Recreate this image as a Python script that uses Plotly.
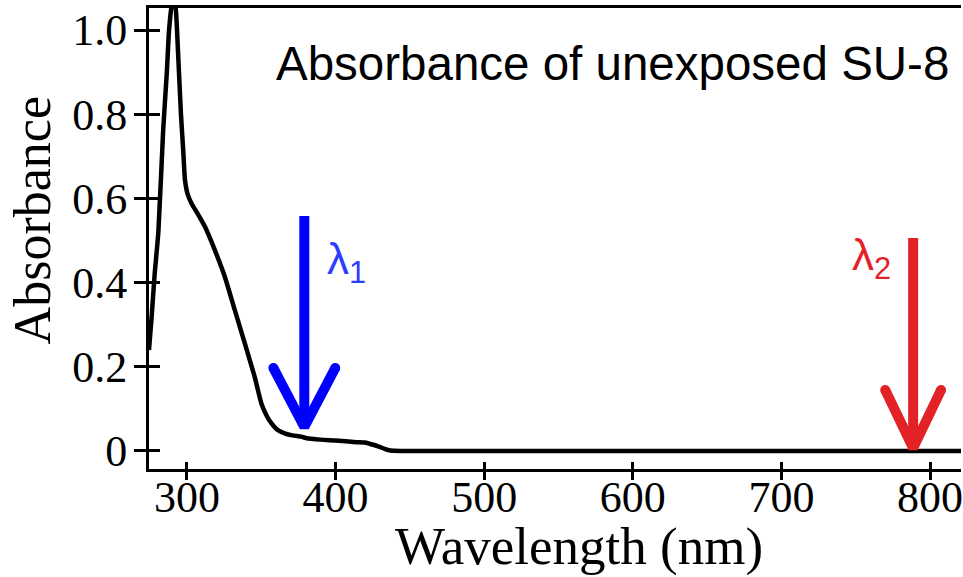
import plotly.graph_objects as go

# ---- data ----
wavelength_nm = [274.5, 276.3, 278.3, 280.8, 284, 286.5, 288, 290.5, 292.5, 294, 296, 297.5,
                 298.7, 300.5, 303.1, 307, 312.1, 318.8, 325.5, 332.2, 338.9, 345.6, 350.1,
                 353.5, 356.8, 361, 365.8, 371, 377, 380, 390, 400, 414, 420, 424, 429.5,
                 433, 437, 445, 500, 600, 700, 800, 820.8]
absorbance = [0.24, 0.32, 0.42, 0.52, 0.76, 0.90, 1.00, 1.08, 1.05, 0.95, 0.80, 0.715,
              0.644, 0.61, 0.588, 0.565, 0.533, 0.477, 0.414, 0.335, 0.256, 0.176, 0.113,
              0.085, 0.066, 0.05, 0.042, 0.037, 0.034, 0.031, 0.027, 0.025, 0.021, 0.02,
              0.016, 0.01, 0.005, 0.001, 0.0, 0.0, 0.0, 0.0, 0.0, 0.0]

x_ticks = [300, 400, 500, 600, 700, 800]
y_ticks = [0, 0.2, 0.4, 0.6, 0.8, 1.0]
y_tick_text = ["0", "0.2", "0.4", "0.6", "0.8", "1.0"]

lambda_labels = ["λ<sub>1</sub>", "λ<sub>2</sub>"]
lambda_nm = [379, 788.6]
arrow_top = [0.558, 0.506]
arrow_tip = [0.057, 0.007]
arrow_colors = ["#0000ff", "#e32228"]
label_colors = ["#2d3cff", "#e32228"]

title_text = "Absorbance of unexposed SU-8"
x_title = "Wavelength (nm)"
y_title = "Absorbance"

X_RANGE = [274.5, 820.8]
Y_RANGE = [-0.0428, 1.0523]

SERIF = "Liberation Serif, Times New Roman, serif"
SANS = "Liberation Sans, Arial, sans-serif"

fig = go.Figure()
fig.add_trace(go.Scatter(x=wavelength_nm, y=absorbance, mode="lines",
                         line=dict(color="black", width=4.5, shape="spline", smoothing=0.5),
                         showlegend=False, hoverinfo="skip"))

# arrows (shaft + open chevron head)
wing_dx = [20.8, 18.8]
wing_dy = [0.14, 0.138]
for i in range(2):
    xc = lambda_nm[i]
    ax = [xc, xc, None, xc - wing_dx[i], xc, xc + wing_dx[i]]
    ay = [arrow_top[i], arrow_tip[i] + 0.01, None,
          arrow_tip[i] + wing_dy[i], arrow_tip[i], arrow_tip[i] + wing_dy[i]]
    fig.add_trace(go.Scatter(x=ax, y=ay, mode="lines",
                             line=dict(color=arrow_colors[i], width=10),
                             showlegend=False, hoverinfo="skip"))
    fig.add_trace(go.Scatter(x=[xc - wing_dx[i], xc + wing_dx[i]],
                             y=[arrow_tip[i] + wing_dy[i]] * 2, mode="markers",
                             marker=dict(color=arrow_colors[i], size=10, line=dict(width=0)),
                             showlegend=False, hoverinfo="skip"))

# empty trace for the overlay axes (inside half of crossing ticks)
fig.add_trace(go.Scatter(x=[], y=[], xaxis="x2", yaxis="y2", showlegend=False))

axis_common = dict(showgrid=False, zeroline=False, linecolor="black", linewidth=3,
                   tickcolor="black", tickwidth=2.5, ticklabeloverflow="allow",
                   tickfont=dict(family=SERIF, size=44, color="black"))

fig.update_layout(
    width=963, height=577,
    margin=dict(l=149, r=0, t=8, b=108),
    paper_bgcolor="white", plot_bgcolor="white",
    xaxis=dict(range=X_RANGE, tickvals=x_ticks, ticks="outside", ticklen=8,
               showline=True, mirror=True, ticklabelstandoff=-21, **axis_common),
    yaxis=dict(range=Y_RANGE, tickvals=y_ticks, ticktext=y_tick_text, ticks="outside",
               ticklen=12, showline=True, mirror=False, ticklabelstandoff=-2,
               **axis_common),
    xaxis2=dict(range=X_RANGE, tickvals=x_ticks, ticks="inside", ticklen=7,
                overlaying="x", anchor="y", side="bottom", showticklabels=False,
                showline=False, showgrid=False, zeroline=False,
                tickcolor="black", tickwidth=2.5),
    yaxis2=dict(range=Y_RANGE, tickvals=y_ticks, ticks="inside", ticklen=11,
                overlaying="y", anchor="x", side="left", showticklabels=False,
                showline=False, showgrid=False, zeroline=False,
                tickcolor="black", tickwidth=2.5),
    showlegend=False,
)

annotations = [
    dict(text=title_text, x=814.0, y=0.92, xref="x", yref="y", xanchor="right",
         yanchor="middle", showarrow=False,
         font=dict(family=SANS, size=47.5, color="black")),
    dict(text=x_title, x=0.5295, y=-0.168, xref="paper", yref="paper",
         xanchor="center", yanchor="middle", showarrow=False,
         font=dict(family=SERIF, size=53, color="black")),
    dict(text=y_title, x=-0.1437, y=0.54, xref="paper", yref="paper",
         xanchor="center", yanchor="middle", showarrow=False, textangle=-90,
         font=dict(family=SERIF, size=52, color="black")),
]
label_x = [392.6, 746.3]
label_y = [0.449, 0.458]
for i in range(2):
    annotations.append(dict(text=lambda_labels[i], x=label_x[i], y=label_y[i],
                            xref="x", yref="y", xanchor="left", yanchor="middle",
                            showarrow=False,
                            font=dict(family=SANS, size=44, color=label_colors[i])))
fig.update_layout(annotations=annotations)

fig.write_html("out.html")
